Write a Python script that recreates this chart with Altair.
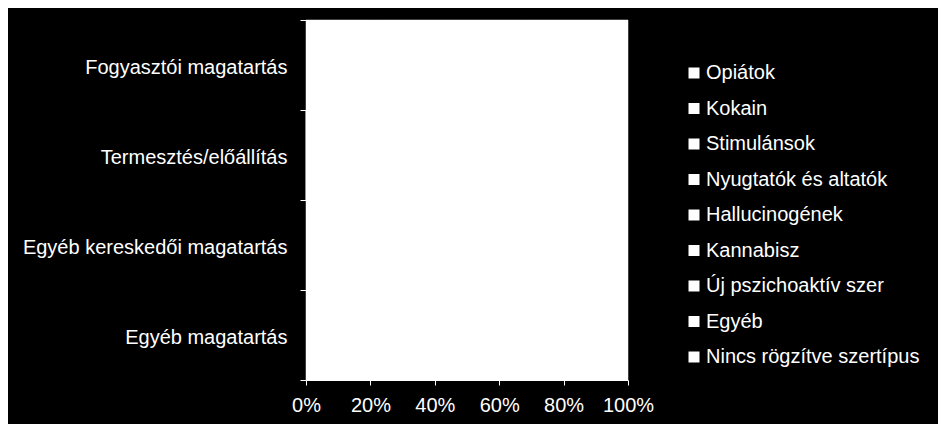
import altair as alt
import pandas as pd

categories = ["Fogyasztói magatartás", "Termesztés/előállítás",
              "Egyéb kereskedői magatartás", "Egyéb magatartás"]
substances = ["Opiátok", "Kokain", "Stimulánsok", "Nyugtatók és altatók",
              "Hallucinogének", "Kannabisz", "Új pszichoaktív szer", "Egyéb",
              "Nincs rögzítve szertípus"]
# share (%) of each substance per category, rows follow `categories`
v_fogyasztoi = [1, 3, 14, 2, 2, 45, 25, 1, 7]
v_termesztes = [0, 1, 5, 0, 0, 85, 4, 1, 4]
v_kereskedoi = [1, 6, 20, 2, 3, 38, 24, 1, 5]
v_egyeb = [1, 2, 10, 3, 1, 30, 18, 5, 30]
values = [v_fogyasztoi, v_termesztes, v_kereskedoi, v_egyeb]

rows = []
for c, vals in zip(categories, values):
    for i, (s, v) in enumerate(zip(substances, vals)):
        rows.append({"kat": c, "szer": s, "ertek": v, "ord": i})
df = pd.DataFrame(rows)

font = "Liberation Sans"

chart = alt.Chart(df).mark_bar(stroke="white", strokeWidth=0.5).encode(
    y=alt.Y("kat:N", sort=categories, title=None,
            scale=alt.Scale(paddingInner=0, paddingOuter=0),
            axis=alt.Axis(tickBand="extent", labelColor="white", labelFontSize=20,
                          labelFont=font, tickColor="white", tickSize=6,
                          domainColor="white", labelPadding=13, labelLimit=400,
                          labelOffset=2)),
    x=alt.X("ertek:Q", stack="normalize", title=None,
            scale=alt.Scale(domain=[0, 1], nice=False),
            axis=alt.Axis(format=".0%", values=[0, 0.2, 0.4, 0.6, 0.8, 1.0],
                          labelColor="white", labelFontSize=20, labelFont=font,
                          tickColor="white", tickSize=5, domainColor="white",
                          grid=False, labelPadding=10, labelFlush=False)),
    color=alt.Color("szer:N", sort=substances,
                    scale=alt.Scale(domain=substances, range=["#ffffff"] * 9),
                    legend=alt.Legend(title=None, orient="none", legendX=378, legendY=43,
                                      symbolType="square", symbolSize=121,
                                      symbolStrokeWidth=0, labelColor="white",
                                      labelFontSize=20, labelFont=font,
                                      rowPadding=15.5, labelOffset=2, labelLimit=400)),
    order=alt.Order("ord:Q"),
).properties(
    width=322, height=360, background="black",
    padding={"left": 298, "top": 12, "right": 310, "bottom": 44},
    autosize=alt.AutoSizeParams(type="none"),
).configure_view(fill="white", stroke=None)

chart.save("out.html", embed_options={"renderer": "svg", "actions": False})
